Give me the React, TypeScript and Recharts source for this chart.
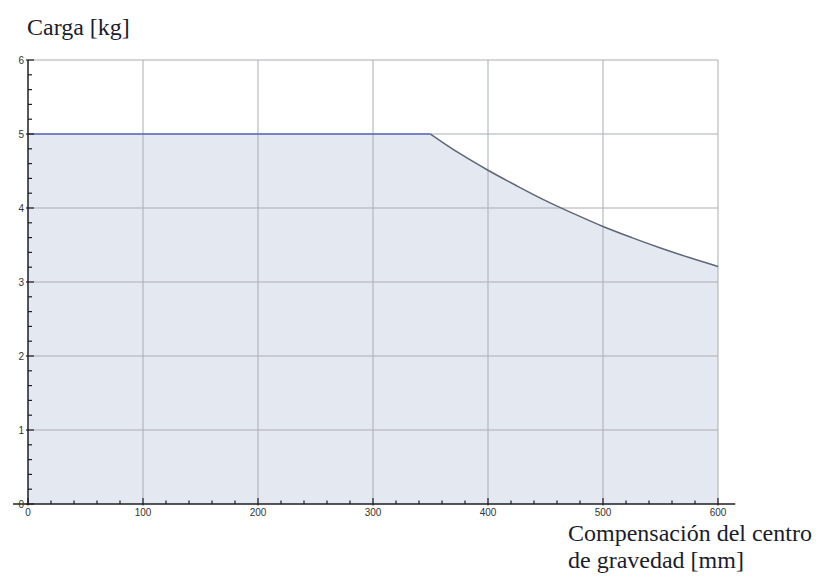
import { ComposedChart, Area, Line, XAxis, YAxis, ReferenceLine } from 'recharts';

// desplazamiento del centro de gravedad [mm] y carga admisible [kg]
const offsetMm = [0, 50, 100, 150, 200, 250, 300, 350, 375, 400, 425, 450, 475, 500, 525, 550, 575, 600];
const loadKg = [5, 5, 5, 5, 5, 5, 5, 5, 4.74, 4.51, 4.3, 4.1, 3.92, 3.75, 3.6, 3.46, 3.33, 3.21];
const kneeMm = 350;

const xMajor = [0, 100, 200, 300, 400, 500, 600];
const yMajor = [0, 1, 2, 3, 4, 5, 6];
const xTicks = Array.from({ length: 31 }, (_, i) => i * 20);
const yTicks = Array.from({ length: 31 }, (_, i) => Math.round(i * 2) / 10);

const data = offsetMm.map((x, i) => ({
  x,
  load: loadKg[i],
  flat: x <= kneeMm ? loadKg[i] : null,
  curve: x >= kneeMm ? loadKg[i] : null,
}));

const AXIS = '#1e1e24';
const GRID = '#abadb4';
const TICK_FONT = '"Liberation Sans", Arial, sans-serif';

const XTick = (props: any) => {
  const { x, y, payload } = props;
  const major = xMajor.includes(payload.value);
  return (
    <g>
      <line x1={x} x2={x} y1={y + (major ? 1.5 : 0)} y2={y - (major ? 6 : 3.5)} stroke={AXIS} strokeWidth={1.2} />
      {major && (
        <text x={x} y={y + 12} textAnchor="middle" fontSize={10} fill="#333" fontFamily={TICK_FONT}>
          {payload.value}
        </text>
      )}
    </g>
  );
};

const YTick = (props: any) => {
  const { x, y, payload } = props;
  const major = yMajor.includes(payload.value);
  return (
    <g>
      <line x1={x - (major ? 2 : 0)} x2={x + (major ? 6 : 4)} y1={y} y2={y} stroke={AXIS} strokeWidth={1.2} />
      {major && (
        <text x={x - 4} y={y + 3.5} textAnchor="end" fontSize={10} fill="#333" fontFamily={TICK_FONT}>
          {payload.value}
        </text>
      )}
    </g>
  );
};

const serif = '"Liberation Serif", "Times New Roman", serif';
const labelStyle = { position: 'absolute' as const, fontFamily: serif, fontSize: 24, lineHeight: '18px', color: '#1c1c2a', whiteSpace: 'nowrap' as const };

export default function App() {
  return (
    <div style={{ position: 'absolute', left: 0, top: 0, width: 827, height: 584, background: '#fff' }}>
      <div style={{ ...labelStyle, left: 27, top: 18 }}>Carga [kg]</div>
      <ComposedChart width={827} height={584} data={data} margin={{ top: 60, right: 109, bottom: 50, left: 0 }}>
        <XAxis
          dataKey="x"
          type="number"
          domain={[0, 600]}
          ticks={xTicks}
          interval={0}
          tick={<XTick />}
          tickSize={0}
          tickMargin={0}
          tickLine={false}
          axisLine={false}
          height={30}
        />
        <YAxis
          type="number"
          domain={[0, 6]}
          ticks={yTicks}
          interval={0}
          tick={<YTick />}
          tickSize={0}
          tickMargin={0}
          tickLine={false}
          axisLine={{ stroke: AXIS, strokeWidth: 1.5 }}
          width={28}
        />
        <Area dataKey="load" type="linear" stroke="none" fill="#e4e8f1" fillOpacity={1} isAnimationActive={false} />
        {xMajor.slice(1).map((v) => (
          <ReferenceLine key={`gx-${v}`} x={v} stroke={GRID} strokeWidth={1} />
        ))}
        {yMajor.slice(1).map((v) => (
          <ReferenceLine key={`gy-${v}`} y={v} stroke={GRID} strokeWidth={1} />
        ))}
        <Line dataKey="flat" type="linear" stroke="#5a68c4" strokeWidth={1.3} dot={false} connectNulls={false} isAnimationActive={false} />
        <Line dataKey="curve" type="monotone" stroke="#5f6678" strokeWidth={1.5} dot={false} connectNulls={false} isAnimationActive={false} />
        <ReferenceLine
          segment={[{ x: -13, y: 0 }, { x: 615, y: 0 }]}
          stroke={AXIS}
          strokeWidth={1.5}
          ifOverflow="visible"
        />
      </ComposedChart>
      <div style={{ ...labelStyle, left: 568, top: 524 }}>Compensación del centro</div>
      <div style={{ ...labelStyle, left: 568, top: 551 }}>de gravedad [mm]</div>
    </div>
  );
}
